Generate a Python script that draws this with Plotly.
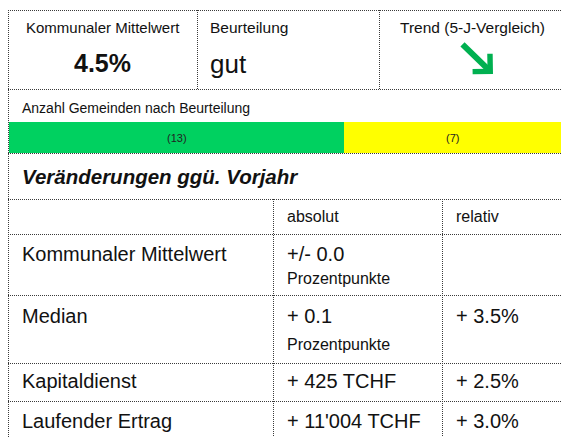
import plotly.graph_objects as go

# ---------------- data ----------------
top_labels = ["Kommunaler Mittelwert", "Beurteilung", "Trend (5-J-Vergleich)"]
mittelwert = "4.5%"
beurteilung = "gut"
bar_title = "Anzahl Gemeinden nach Beurteilung"
count_names = ["gut", "genügend"]
counts = [13, 7]
count_colors = ["#00D160", "#FFFF00"]
section_title = "Veränderungen ggü. Vorjahr"
col_headers = ["absolut", "relativ"]
row_labels = ["Kommunaler Mittelwert", "Median", "Kapitaldienst", "Laufender Ertrag"]
abs_values = ["+/- 0.0", "+ 0.1", "+ 425 TCHF", "+ 11'004 TCHF"]
abs_units = ["Prozentpunkte", "Prozentpunkte", "", ""]
rel_values = ["", "+ 3.5%", "+ 2.5%", "+ 3.0%"]

W, H = 561, 437
FONT = "Liberation Sans, Arial, sans-serif"
LINE = "#3a3a3a"

fig = go.Figure()

# ---- rating bar (stacked horizontal bars) ----
bar_start = 2.16
cum = 0
for name, v, c in zip(count_names, counts, count_colors):
    fig.add_trace(go.Bar(
        x=[v], y=[0], orientation="h", name=name,
        marker=dict(color=c, line=dict(width=0)),
        width=1, xaxis="x2", yaxis="y2",
        hoverinfo="skip", showlegend=False,
    ))
    mid = (max(cum, bar_start) + cum + v) / 2
    fig.add_annotation(x=mid, y=0, xref="x2", yref="y2", text=f"({v})", showarrow=False,
                       xanchor="center", yanchor="middle",
                       font=dict(family=FONT, size=11, color="#222222"))
    cum += v

# ---- grid lines (dotted) ----
def hline(y, x0=8, x1=W):
    fig.add_shape(type="line", xref="x", yref="y", x0=x0, x1=x1, y0=y + 0.5, y1=y + 0.5,
                  line=dict(color=LINE, width=1, dash="1px,1px"))

def vline(x, y0, y1):
    fig.add_shape(type="line", xref="x", yref="y", x0=x + 0.5, x1=x + 0.5, y0=y0, y1=y1,
                  line=dict(color=LINE, width=1, dash="1px,1px"))

for y in [10, 89, 153, 199, 234, 295, 363, 401]:
    hline(y)
vline(8, 10, H)
vline(197, 10, 89)
vline(379, 10, 89)
vline(273, 199, H)
vline(442, 199, H)

def txt(x, y, s, size, anchor="left", bold=False, italic=False, color="#111111"):
    if bold:
        s = f"<b>{s}</b>"
    if italic:
        s = f"<i>{s}</i>"
    fig.add_annotation(x=x, y=y, xref="x", yref="y", text=s, showarrow=False,
                       xanchor=anchor, yanchor="middle",
                       font=dict(family=FONT, size=size, color=color))

# ---- top row ----
txt(102.5, 27, top_labels[0], 15, anchor="center")
txt(208, 27, top_labels[1], 15.5)
txt(472, 27, top_labels[2], 15.5, anchor="center")
txt(102.5, 63, mittelwert, 25, anchor="center", bold=True)
txt(208, 64, beurteilung, 26)
fig.add_annotation(x=493, y=74, ax=461, ay=43, xref="x", yref="y", axref="x", ayref="y",
                   text="", showarrow=True, arrowhead=4, arrowwidth=6, arrowsize=0.8,
                   arrowcolor="#00B050", standoff=0, startstandoff=0)

# ---- bar section ----
txt(20, 108, bar_title, 14)

# ---- changes table ----
txt(20, 176, section_title, 20.5, bold=True, italic=True)
txt(285, 216, col_headers[0], 16)
txt(454, 216, col_headers[1], 16)
row_y = [254, 316, 381, 421]
unit_y = [278, 344, None, None]
for lab, a, u, r, y, uy in zip(row_labels, abs_values, abs_units, rel_values, row_y, unit_y):
    txt(20, y, lab, 20)
    txt(285, y, a, 20)
    if u:
        txt(285, uy, u, 16)
    if r:
        txt(454, y, r, 20)

fig.update_layout(
    width=W, height=H,
    margin=dict(l=0, r=0, t=0, b=0),
    paper_bgcolor="white", plot_bgcolor="rgba(0,0,0,0)",
    barmode="stack", bargap=0,
    showlegend=False,
    xaxis=dict(range=[0, W], visible=False, domain=[0, 1], fixedrange=True),
    yaxis=dict(range=[H, 0], visible=False, domain=[0, 1], fixedrange=True),
    xaxis2=dict(range=[bar_start, sum(counts)], visible=False,
                domain=[9 / W, 1], anchor="y2", fixedrange=True),
    yaxis2=dict(range=[-0.5, 0.5], visible=False,
                domain=[1 - 153 / H, 1 - 122 / H], anchor="x2", fixedrange=True),
)

fig.write_html(
    "out.html",
    config={"displayModeBar": False},
    post_script="document.body.style.margin='0';document.documentElement.style.overflow='hidden';",
)
